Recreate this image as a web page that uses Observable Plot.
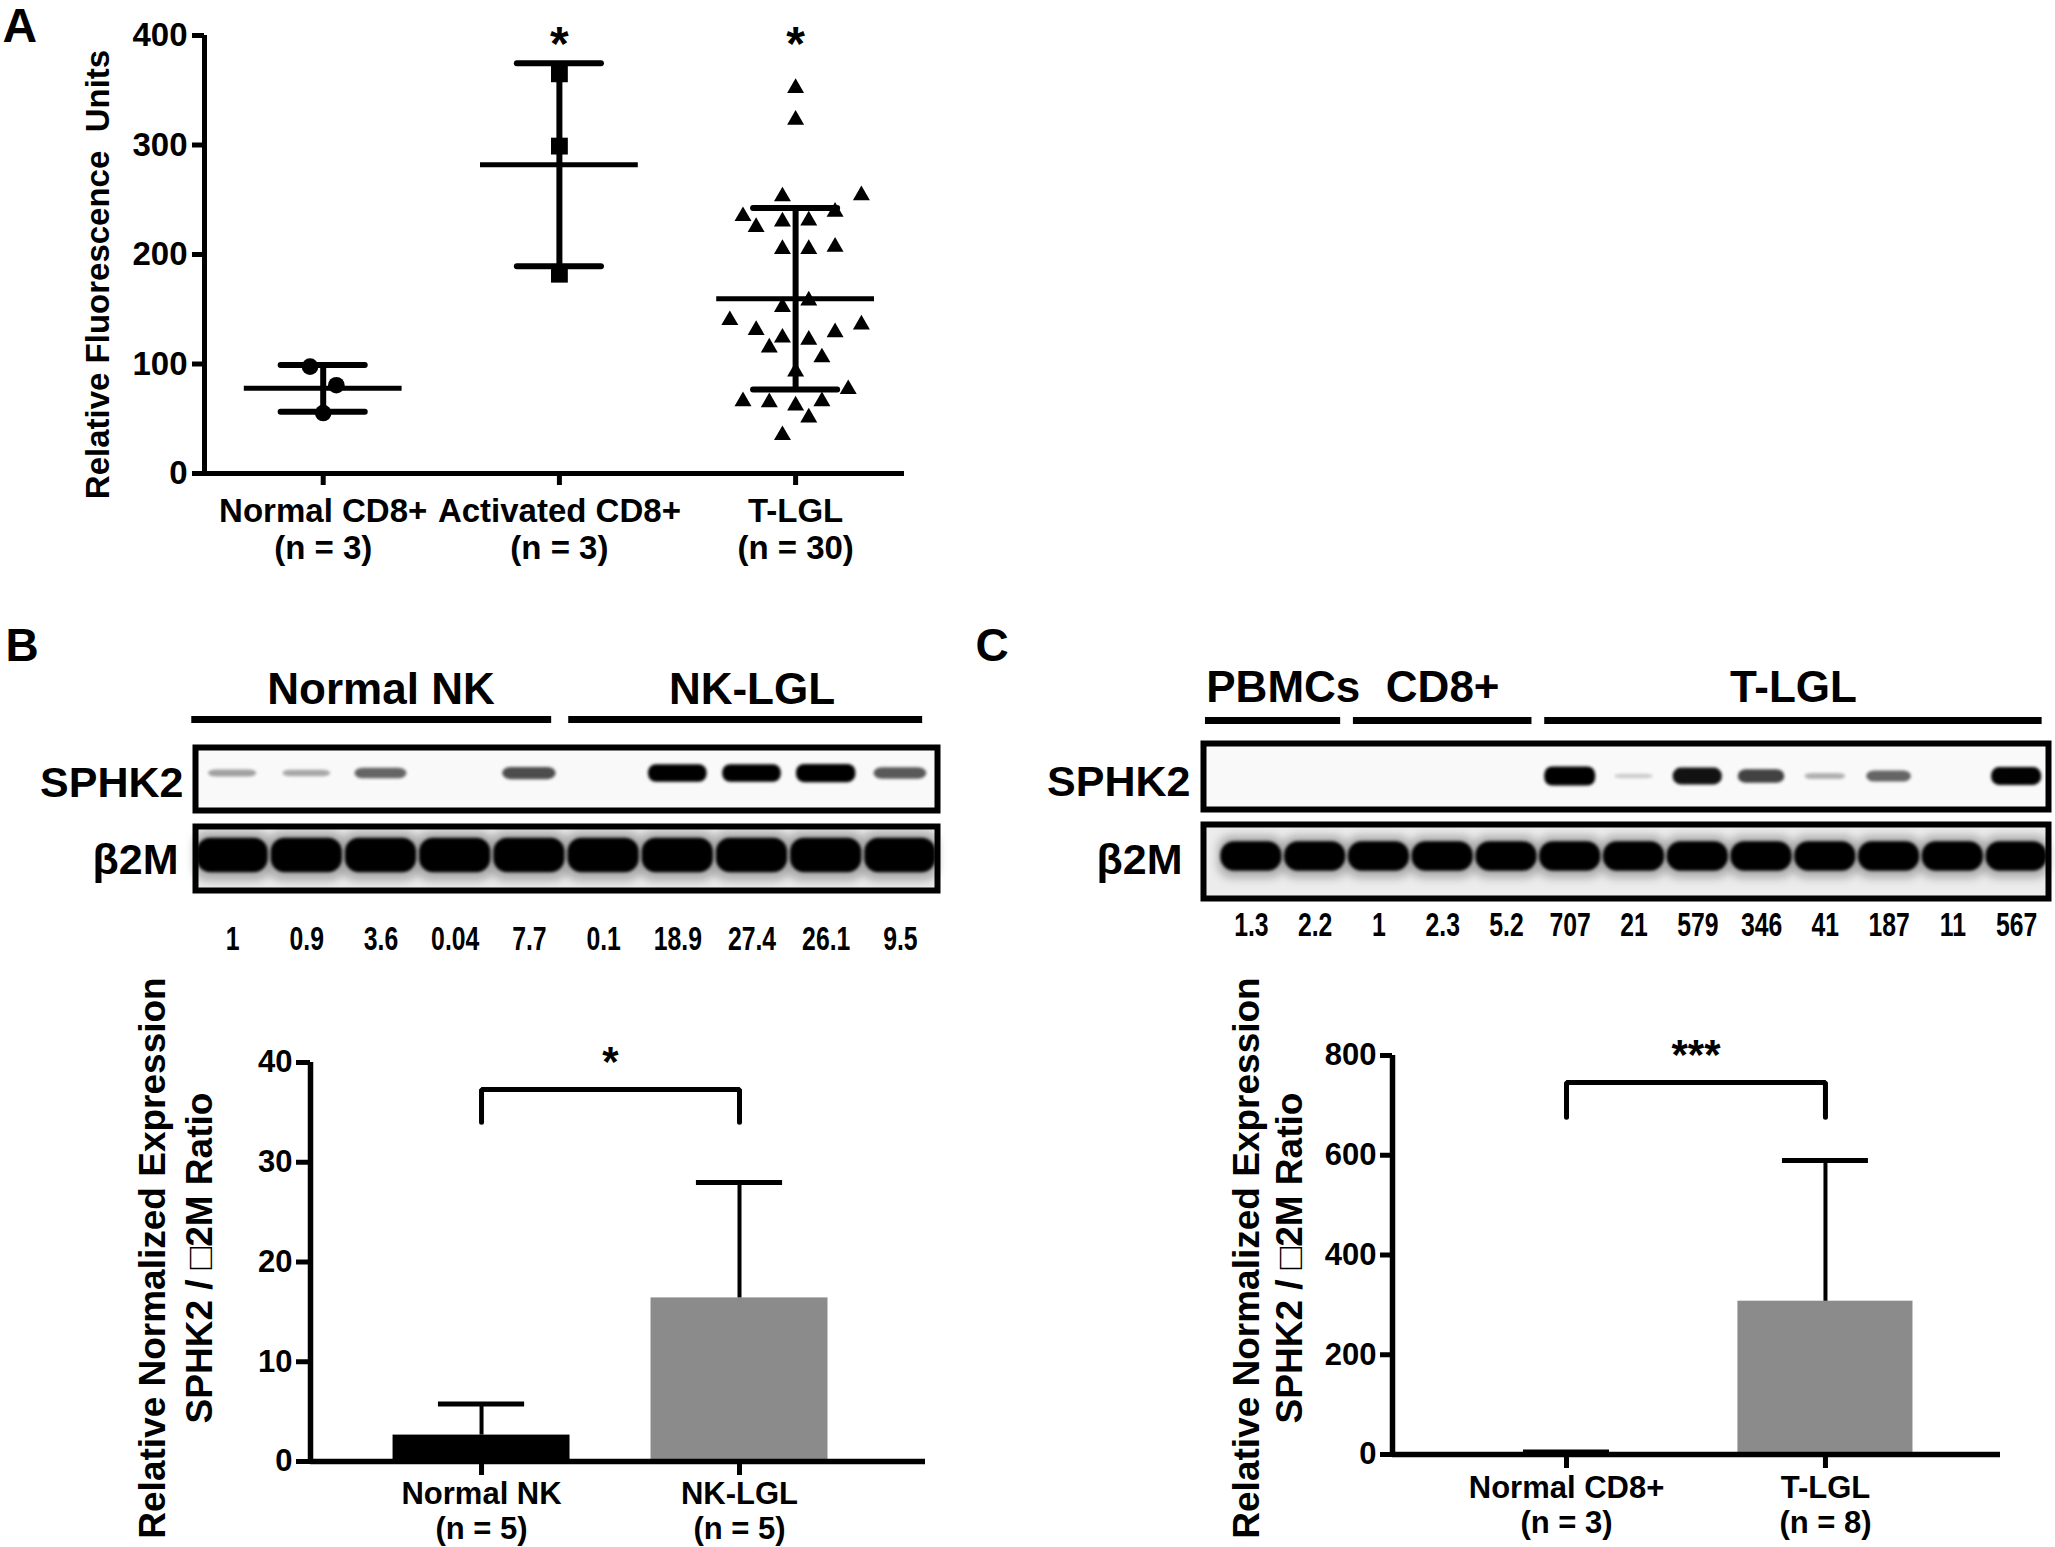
<!DOCTYPE html>
<html>
<head>
<meta charset="utf-8">
<script src="https://cdn.jsdelivr.net/npm/d3@7"></script>
<script src="https://cdn.jsdelivr.net/npm/@observablehq/plot@0.6"></script>
<style>
  body { margin: 0; background: #fff; }
  #root { position: relative; width: 2055px; height: 1547px; background: #fff; overflow: hidden; }
</style>
</head>
<body>
<div id="root"></div>
<script>
// ---------------- DATA ----------------
// Panel A: relative fluorescence units per cell (beeswarm column index = horizontal slot)
const aGroups = ["Normal CD8+", "Activated CD8+", "T-LGL"];
const aGroupN = [3, 3, 30];
const normalCD8Values = [97.6, 80.6, 55.2];
const normalCD8Cols = [-1, 1, 0];
const activatedCD8Values = [365, 299, 182];
const activatedCD8Cols = [0, 0, 0];
const tlglValues = [352, 323, 253, 254, 235, 239, 225, 230, 231, 205, 205, 207, 158, 152, 140,
                    136, 131, 129, 124, 122, 115, 106, 93, 77, 66, 65, 66, 62, 51, 35];
const tlglCols = [0, 0, -1, 5, -4, 3, -3, -1, 1, -1, 1, 3, 1, -1, -5,
                  5, -3, 3, -1, 1, -2, 2, 0, 4, -4, -2, 2, 0, 1, -1];
const aTicks = [0, 100, 200, 300, 400];
const aSignificant = ["Activated CD8+", "T-LGL"];

// Panel B: western blot, NK cells
const nkRatios = [1, 0.9, 3.6, 0.04, 7.7, 0.1, 18.9, 27.4, 26.1, 9.5];
const nkSphk2Band = [0.25, 0.22, 0.5, 0, 0.6, 0, 0.95, 0.95, 1, 0.55];
const nkGroups = [
  {name: "Normal NK", start: 0, end: 5},
  {name: "NK-LGL", start: 5, end: 10}
];
const bBarGroups = ["Normal NK", "NK-LGL"];
const bBarN = [5, 5];
const bTicks = [0, 10, 20, 30, 40];

// Panel C: western blot, T cells
const tRatios = [1.3, 2.2, 1, 2.3, 5.2, 707, 21, 579, 346, 41, 187, 11, 567];
const tSphk2Band = [0, 0, 0, 0, 0, 1, 0.06, 0.85, 0.65, 0.18, 0.5, 0, 0.92];
const tGroups = [
  {name: "PBMCs", start: 0, end: 2},
  {name: "CD8+", start: 2, end: 5},
  {name: "T-LGL", start: 5, end: 13}
];
const cBarGroups = ["Normal CD8+", "T-LGL"];
const cBarN = [3, 8];
const cTicks = [0, 200, 400, 600, 800];

const yLabel1 = "Relative Normalized Expression";
const yLabel2 = "SPHK2 / \u25A12M Ratio";

// ---------------- HELPERS ----------------
const FONT = '"Liberation Sans", Arial, Helvetica, sans-serif';
const style = {background: "transparent", fontFamily: FONT, color: "black", overflow: "visible", maxWidth: "none"};
const root = document.getElementById("root");
function mount(svg, left, top) {
  svg.style.position = "absolute";
  svg.style.left = left + "px";
  svg.style.top = top + "px";
  root.appendChild(svg);
  return svg;
}
// condense the glyphs of every text of an svg (the original uses a narrow face)
function condense(svg, factor) {
  svg.querySelectorAll("text").forEach(t => {
    const L = t.getComputedTextLength();
    if (L > 0) {
      t.setAttribute("textLength", (L * factor).toFixed(1));
      t.setAttribute("lengthAdjust", "spacingAndGlyphs");
    }
  });
}
function stats(g, values, extra = {}) {
  return {g, mean: d3.mean(values), sd: d3.deviation(values), ...extra};
}

// ---------------- PANEL A ----------------
{
  const step = 0.0557; // beeswarm slot width in category units
  const pts = (vals, cols, g) => vals.map((v, i) => ({g, v, c: cols[i]}));
  const normalPts = pts(normalCD8Values, normalCD8Cols, 1);
  const actPts = pts(activatedCD8Values, activatedCD8Cols, 2);
  const tPts = pts(tlglValues, tlglCols, 3);
  const aStats = [stats(1, normalCD8Values), stats(2, activatedCD8Values), stats(3, tlglValues)];
  const x0 = 0.4975;
  const px = d => d.g + d.c * step;
  const sig = aSignificant.map(n => ({g: aGroups.indexOf(n) + 1}));
  const A = Plot.plot({
    width: 930, height: 600,
    marginLeft: 204, marginRight: 26, marginTop: 35, marginBottom: 127,
    x: {domain: [x0, 3.461]},
    y: {domain: [0, 400]},
    style,
    marks: [
      Plot.ruleY(aStats, {y: "mean", x1: d => d.g - 0.334, x2: d => d.g + 0.334, strokeWidth: 5}),
      Plot.ruleX(aStats, {x: "g", y1: d => d.mean - d.sd, y2: d => d.mean + d.sd, strokeWidth: 6}),
      Plot.ruleY(aStats, {y: d => d.mean + d.sd, x1: d => d.g - 0.178, x2: d => d.g + 0.178, strokeWidth: 6, strokeLinecap: "round"}),
      Plot.ruleY(aStats, {y: d => d.mean - d.sd, x1: d => d.g - 0.178, x2: d => d.g + 0.178, strokeWidth: 6, strokeLinecap: "round"}),
      Plot.dot(normalPts, {x: px, y: "v", symbol: "circle", r: 8.3, fill: "black", stroke: "none"}),
      Plot.dot(actPts, {x: px, y: "v", symbol: "square", r: 9.5, fill: "black", stroke: "none"}),
      Plot.dot(tPts, {x: px, y: "v", symbol: "triangle", r: 6.3, fill: "black", stroke: "none"}),
      Plot.ruleY([0], {strokeWidth: 5}),
      Plot.ruleX([x0], {y1: 0, y2: 400, strokeWidth: 5}),
      Plot.axisY({ticks: aTicks, tickSize: 12, tickPadding: 5, fontSize: 33, fontWeight: "bold", strokeWidth: 5, label: null}),
      Plot.axisX({ticks: [1, 2, 3], tickSize: 12, tickPadding: 10, strokeWidth: 5,
        tickFormat: d => `${aGroups[d - 1]}\n(n = ${aGroupN[d - 1]})`,
        fontSize: 33, fontWeight: "bold", lineHeight: 1.12, label: null}),
      Plot.text(["Relative Fluorescence\u00a0 Units"], {frameAnchor: "left", textAnchor: "middle", rotate: -90, dx: -106, dy: 20, fontSize: 33, fontWeight: "bold"}),
      Plot.text(sig, {x: "g", y: 400, text: () => "*", lineAnchor: "top", dy: -10, fontSize: 48, fontWeight: "bold"}),
      Plot.text(["A"], {frameAnchor: "top-left", textAnchor: "start", lineAnchor: "top", dx: -202, dy: -28, fontSize: 48, fontWeight: "bold"})
    ]
  });
  mount(A, 0, 0);
}

// ---------------- BLOTS ----------------
function blot(cfg) {
  const {left, width, mL, mR, inset, ratios, bands, groups, letter} = cfg;
  const lanes = ratios.map((r, i) => ({i, r, s: bands[i]}));
  const x = {domain: [0, ratios.length], insetLeft: inset, axis: null};
  // header: group bars, group names, panel letter
  mount(Plot.plot({
    width, height: 130, marginLeft: mL, marginRight: mR, marginTop: cfg.hTop, marginBottom: 130 - cfg.hTop - 7,
    x, style,
    marks: [
      Plot.rect(groups, {x1: d => d.start === 0 ? -cfg.firstOut : d.start + cfg.gIn1, x2: d => d.end - cfg.gIn2, fill: "black"}),
      Plot.text(groups, {x: d => (d.start + d.end) / 2, text: "name", frameAnchor: "top", lineAnchor: "top", dy: cfg.gDy, fontSize: 44, fontWeight: "bold"}),
      Plot.text([letter], {frameAnchor: "top-left", textAnchor: "start", lineAnchor: "top", dx: cfg.letterDx, dy: 628 - (600 + cfg.hTop), fontSize: 46, fontWeight: "bold"})
    ]
  }), left, 600);
  // SPHK2 strip
  mount(Plot.plot({
    width, height: cfg.sH, marginLeft: mL, marginRight: mR, marginTop: cfg.sMT, marginBottom: cfg.sMB,
    x, y: {domain: [0, 1], axis: null}, style,
    marks: [
      Plot.frame({fill: "#f9f9f9"}),
      Plot.rect(lanes.filter(d => d.s > 0), {
        x1: d => d.i + 0.5 - (0.3 + 0.1 * d.s), x2: d => d.i + 0.5 + (0.3 + 0.1 * d.s),
        y1: d => cfg.sY - (0.025 + 0.12 * d.s), y2: d => cfg.sY + (0.025 + 0.12 * d.s),
        rx: 8, fill: "black", fillOpacity: d => Math.min(1, 0.12 + 0.95 * d.s), imageFilter: "blur(1.5px)"
      }),
      Plot.frame({stroke: "black", strokeWidth: 6}),
      Plot.text(["SPHK2"], {frameAnchor: "left", textAnchor: "end", dx: cfg.sLdx, dy: cfg.sLdy, fontSize: 43, fontWeight: "bold"})
    ]
  }), left, cfg.sTop);
  // beta2M strip
  mount(Plot.plot({
    width, height: cfg.bH, marginLeft: mL, marginRight: mR, marginTop: cfg.bMT, marginBottom: cfg.bMB,
    x, y: {domain: [0, 1], axis: null}, style,
    marks: [
      Plot.frame({fill: "#ececec"}),
      Plot.rect(lanes, {
        x1: d => d.i - 0.02, x2: d => d.i + 1.02,
        y1: cfg.bY - cfg.bHalf * 1.5, y2: cfg.bY + cfg.bHalf * 1.4,
        rx: 14, fill: "#555", fillOpacity: 0.4, imageFilter: "blur(4px)"
      }),
      Plot.rect(lanes, {
        x1: d => d.i + 0.02, x2: d => d.i + 0.98,
        y1: cfg.bY - cfg.bHalf, y2: cfg.bY + cfg.bHalf,
        rx: 14, fill: "black", imageFilter: "blur(1.5px)"
      }),
      Plot.frame({stroke: "black", strokeWidth: 6}),
      Plot.text(["\u03b22M"], {frameAnchor: "left", textAnchor: "end", dx: cfg.bLdx, dy: cfg.bLdy, fontSize: 43, fontWeight: "bold"})
    ]
  }), left, cfg.bTop);
  // ratio numbers
  const nums = mount(Plot.plot({
    width, height: 56, marginLeft: mL, marginRight: mR, marginTop: 0, marginBottom: 0,
    x, style,
    marks: [
      Plot.text(lanes, {x: d => d.i + 0.5, text: d => String(d.r), fontSize: 33, fontWeight: "bold"})
    ]
  }), left, cfg.nTop);
  condense(nums, 0.75);
}

blot({
  left: 0, width: 960, mL: 195, mR: 23, inset: 0,
  ratios: nkRatios, bands: nkSphk2Band, groups: nkGroups, letter: "B",
  hTop: 116, gIn1: 0.03, gIn2: 0.2, firstOut: 0.05, gDy: -44, letterDx: -190,
  sTop: 740, sH: 75, sMT: 7, sMB: 5, sY: 0.587, sLdx: -12, sLdy: 4,
  bTop: 818, bH: 80, bMT: 8, bMB: 8, bY: 0.547, bHalf: 0.27, bLdx: -17, bLdy: 2,
  nTop: 911
});
blot({
  left: 960, width: 1095, mL: 243, mR: 7, inset: 16,
  ratios: tRatios, bands: tSphk2Band, groups: tGroups, letter: "C",
  hTop: 117, gIn1: 0.1, gIn2: 0.1, firstOut: 0.22, gDy: -47, letterDx: -228,
  sTop: 736, sH: 80, sMT: 7, sMB: 7, sY: 0.5, sLdx: -13, sLdy: 6,
  bTop: 818, bH: 86, bMT: 6, bMB: 6, bY: 0.567, bHalf: 0.2, bLdx: -21, bLdy: -1,
  nTop: 897
});

// ---------------- BAR CHARTS ----------------
function barChart(cfg) {
  const {left, width, mL, mR, mT, mB, xDomain, yMax, ticks, groups, ns, data, fills, bracket, sigText} = cfg;
  const st = data.map((vals, i) => stats(i + 1, vals, {fill: fills[i]}));
  const x0 = xDomain[0];
  const br = [
    {x: bracket.from, y: bracket.foot}, {x: bracket.from, y: bracket.top},
    {x: bracket.to, y: bracket.top}, {x: bracket.to, y: bracket.foot}
  ];
  mount(Plot.plot({
    width, height: 587, marginLeft: mL, marginRight: mR, marginTop: mT, marginBottom: mB,
    x: {domain: xDomain}, y: {domain: [0, yMax]}, style,
    marks: [
      Plot.rectY(st, {x1: d => d.g - cfg.barHalf, x2: d => d.g + cfg.barHalf, y1: 0, y2: "mean", fill: "fill"}),
      Plot.ruleX(st, {x: "g", y1: "mean", y2: d => d.mean + d.sd, strokeWidth: 4}),
      Plot.ruleY(st, {y: d => d.mean + d.sd, x1: d => d.g - cfg.capHalf, x2: d => d.g + cfg.capHalf, strokeWidth: 5}),
      Plot.line(br, {x: "x", y: "y", strokeWidth: 5, strokeLinejoin: "miter"}),
      Plot.text([sigText], {x: (bracket.from + bracket.to) / 2, y: cfg.sigY, dy: 8, fontSize: 42, fontWeight: "bold"}),
      Plot.ruleY([0], {strokeWidth: 5.5}),
      Plot.ruleX([x0], {y1: 0, y2: yMax, strokeWidth: 5.5}),
      Plot.axisY({ticks, tickSize: cfg.yTick, tickPadding: 4, fontSize: 31, fontWeight: "bold", strokeWidth: 5, label: null}),
      Plot.axisX({ticks: [1, 2], tickSize: 14, tickPadding: cfg.xPad, strokeWidth: 5,
        tickFormat: d => `${groups[d - 1]}\n(n = ${ns[d - 1]})`,
        fontSize: 31, fontWeight: "bold", lineHeight: cfg.xLH, label: null}),
      Plot.text([yLabel1], {frameAnchor: "left", textAnchor: "middle", rotate: -90, dx: cfg.l1dx, dy: cfg.ldy, fontSize: 37, fontWeight: "bold"}),
      Plot.text([yLabel2], {frameAnchor: "left", textAnchor: "middle", rotate: -90, dx: cfg.l2dx, dy: cfg.ldy, fontSize: 37, fontWeight: "bold"})
    ]
  }), left, 960);
}

barChart({
  left: 0, width: 960, mL: 310, mR: 35, mT: 102, mB: 86,
  xDomain: [0.337, 2.721], yMax: 40, ticks: bTicks,
  groups: bBarGroups, ns: bBarN,
  data: nkGroups.map(g => nkRatios.slice(g.start, g.end)),
  fills: ["black", "#8b8b8b"],
  barHalf: 0.343, capHalf: 0.167,
  bracket: {from: 1, to: 2, top: 37.3, foot: 34}, sigText: "*", sigY: 40.8,
  yTick: 14, xPad: 3, xLH: 1.15, l1dx: -157, l2dx: -110, ldy: -4
});
barChart({
  left: 960, width: 1095, mL: 432, mR: 55, mT: 95, mB: 93,
  xDomain: [0.328, 2.676], yMax: 800, ticks: cTicks,
  groups: cBarGroups, ns: cBarN,
  data: [tRatios.slice(tGroups[1].start, tGroups[1].end), tRatios.slice(tGroups[2].start, tGroups[2].end)],
  fills: ["black", "#8b8b8b"],
  barHalf: 0.338, capHalf: 0.166,
  bracket: {from: 1, to: 2, top: 746, foot: 676}, sigText: "***", sigY: 816,
  yTick: 12, xPad: 4, xLH: 1.15, l1dx: -145, l2dx: -102, ldy: 3
});
</script>
</body>
</html>
